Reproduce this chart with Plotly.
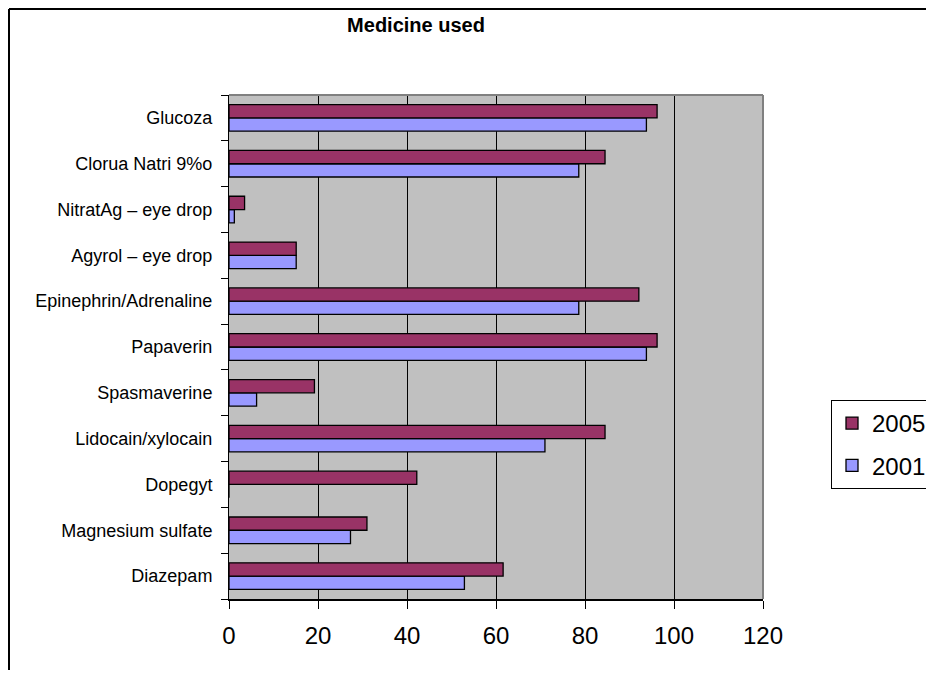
import plotly.graph_objects as go

# Categories listed bottom-to-top (as they appear on the y axis)
categories = [
    "Diazepam",
    "Magnesium sulfate",
    "Dopegyt",
    "Lidocain/xylocain",
    "Spasmaverine",
    "Papaverin",
    "Epinephrin/Adrenaline",
    "Agyrol – eye drop",
    "NitratAg – eye drop",
    "Clorua Natri 9%o",
    "Glucoza",
]
values_2005 = [61.6, 31.0, 42.2, 84.5, 19.2, 96.2, 92.1, 15.1, 3.5, 84.5, 96.2]
values_2001 = [52.9, 27.3, 0, 71.0, 6.2, 93.8, 78.6, 15.1, 1.2, 78.6, 93.8]
x_ticks = [0, 20, 40, 60, 80, 100, 120]

# page has an 8px body margin; figure sized so page is exactly 934x678
OFF = 8
W, H = 934 - 2 * OFF, 678 - 2 * OFF
L, R, T, B = 229 - OFF, 763 - OFF, 95 - OFF, 599 - OFF  # plot area (figure px)
pw, ph = R - L, B - T

def px_x(p):
    return (p - OFF - L) / pw

def px_y(p):
    return (B - (p - OFF)) / ph

fig = go.Figure()
fig.add_trace(go.Bar(
    y=categories, x=values_2001, name="2001", orientation="h",
    legendgroup="g2001", legendrank=2,
    marker=dict(color="#9999FF", line=dict(color="black", width=1.3)),
))
fig.add_trace(go.Bar(
    y=categories, x=values_2005, name="2005", orientation="h",
    legendgroup="g2005", legendrank=1,
    marker=dict(color="#993366", line=dict(color="black", width=1.3)),
))

font_family = "Arial, Liberation Sans, sans-serif"

fig.update_layout(
    width=W, height=H,
    margin=dict(l=L, r=W - R, t=T, b=H - B, pad=0, autoexpand=False),
    paper_bgcolor="white",
    plot_bgcolor="#C0C0C0",
    barmode="group",
    bargap=0.42,
    bargroupgap=0,
    font=dict(family=font_family, color="black"),
    title=dict(
        text="<b>Medicine used</b>",
        font=dict(size=20, family=font_family, color="black"),
        xref="container", x=(416 - OFF) / W, xanchor="center",
        yref="container", y=1 - (25 - OFF) / H, yanchor="middle",
    ),
    xaxis=dict(
        range=[0, 120], tickvals=x_ticks, ticktext=[str(v) for v in x_ticks],
        showgrid=True, gridcolor="black", gridwidth=1,
        zeroline=False,
        showline=True, linecolor="black", linewidth=1.5,
        ticks="outside", ticklen=8, tickcolor="black", tickwidth=1,
        tickfont=dict(size=24, family=font_family, color="black"),
        ticklabelstandoff=6,
        automargin=False,
        fixedrange=True,
    ),
    yaxis=dict(
        type="category", categoryorder="array", categoryarray=categories,
        showgrid=False, zeroline=False,
        showline=True, linecolor="black", linewidth=1,
        ticks="outside", tickson="boundaries", ticklen=7, tickcolor="black", tickwidth=1,
        tickfont=dict(size=18, family=font_family, color="black"),
        ticklabelstandoff=12,
        automargin=False,
        fixedrange=True,
    ),
    legend=dict(
        x=px_x(831), y=px_y(400), xanchor="left", yanchor="top",
        traceorder="grouped",
        bordercolor="black", borderwidth=1, bgcolor="white",
        font=dict(size=24, family=font_family, color="black"),
        itemwidth=30, tracegroupgap=8,
    ),
    showlegend=True,
)

# Plot-area top and right border (grey) and outer chart frame (black)
fig.add_shape(type="line", xref="paper", yref="paper", x0=0, x1=1, y0=1, y1=1,
              line=dict(color="#808080", width=2), layer="above")
fig.add_shape(type="line", xref="paper", yref="paper", x0=1, x1=1, y0=0, y1=1,
              line=dict(color="#808080", width=2), layer="above")
fig.add_shape(type="line", xref="paper", yref="paper",
              x0=px_x(9), x1=px_x(9), y0=px_y(700), y1=px_y(9),
              line=dict(color="black", width=2), layer="above")
fig.add_shape(type="line", xref="paper", yref="paper",
              x0=px_x(9), x1=px_x(960), y0=px_y(9), y1=px_y(9),
              line=dict(color="black", width=2), layer="above")

fig.write_html("out.html")
